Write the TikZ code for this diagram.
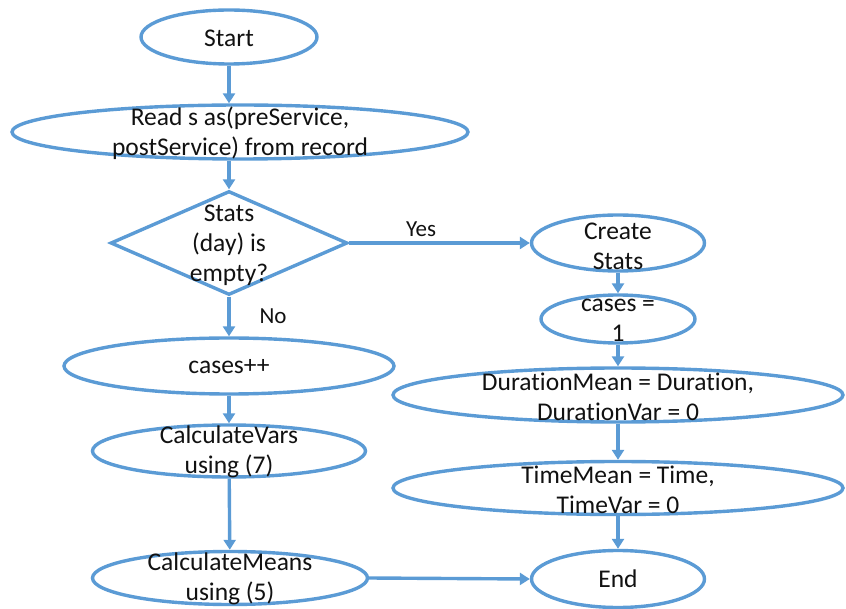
\documentclass[tikz,border=0pt]{standalone}
\usepackage{fontspec}
\setmainfont{Carlito}[RawFeature=-liga]
\usetikzlibrary{shapes.geometric,arrows.meta}
\definecolor{flowblue}{HTML}{5B9BD5}
\definecolor{ink}{HTML}{111111}
\begin{document}
\begin{tikzpicture}[x=1pt,y=-1pt,
  shapeline/.style={draw=flowblue,line width=3.4pt},
  oval/.style={shapeline,ellipse,inner sep=0pt},
  decision/.style={shapeline,diamond,inner sep=0pt},
  txt/.style={text=ink,align=center,inner sep=0pt,font=\fontsize{25.5}{30}\selectfont},
  lbl/.style={text=ink,inner sep=0pt,font=\fontsize{23}{27}\selectfont},
  flow/.style={draw=flowblue,line width=3.4pt,-{Triangle[length=10pt,width=12pt]}}]
\useasboundingbox (0,0) rectangle (846,609);

% left column
\node[oval,minimum width=176,minimum height=54] (start) at (229,37) {};
\node[txt] (startT) at (229,38) {Start};
\node[oval,minimum width=456,minimum height=54] (read) at (240,132) {};
\node[txt] (readT) at (240,133) {Read s as(preService,\\postService) from record};
\node[decision,minimum width=237,minimum height=104] (check) at (229,243) {};
\node[txt] (checkT) at (229,245) {Stats\\(day) is\\empty?};
\node[oval,minimum width=330,minimum height=56] (inc) at (229,366) {};
\node[txt] (incT) at (229,367) {cases++};
\node[oval,minimum width=273,minimum height=52] (vars) at (229,451) {};
\node[txt] (varsT) at (229,452) {CalculateVars\\using (7)};
\node[oval,minimum width=275,minimum height=53] (means) at (230,578) {};
\node[txt] (meansT) at (230,579) {CalculateMeans\\using (5)};

% right column
\node[oval,minimum width=173,minimum height=56] (create) at (618,243) {};
\node[txt] (createT) at (618,246) {Create\\Stats};
\node[oval,minimum width=154,minimum height=48] (one) at (618,319) {};
\node[txt] (oneT) at (618,320) {cases =\\1};
\node[oval,minimum width=450,minimum height=54] (dur) at (618,395) {};
\node[txt] (durT) at (618,397) {DurationMean = Duration,\\DurationVar = 0};
\node[oval,minimum width=450,minimum height=53] (time) at (618,488) {};
\node[txt] (timeT) at (618,490) {TimeMean = Time,\\TimeVar = 0};
\node[oval,minimum width=173,minimum height=57] (end) at (618,579) {};
\node[txt] (endT) at (618,579) {End};

% connectors (vertical ones kept straight down)
\draw[flow] (start.south) -- (start.south |- read.north);
\draw[flow] (check.north |- read.south) -- (check.north);
\draw[flow] (check.east) -- (create.west);
\draw[flow] (check.south) -- (inc.north);
\draw[flow] (inc) -- (vars);
\draw[flow] (vars) -- (means);
\draw[flow] (means.east) -- (end.west);
\draw[flow] (create) -- (one);
\draw[flow] (one) -- (dur);
\draw[flow] (dur) -- (time);
\draw[flow] (time) -- (end);

% branch labels
\node[lbl] (yes) at (421,229) {Yes};
\node[lbl] (no) at (273,316) {No};
\end{tikzpicture}
\end{document}
